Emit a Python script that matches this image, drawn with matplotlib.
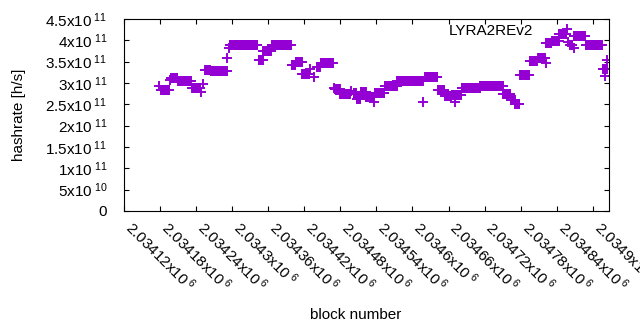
import numpy as np
import matplotlib
matplotlib.use('Agg')
import matplotlib.pyplot as plt

plt.rcParams['font.family'] = ['Liberation Sans', 'DejaVu Sans']
plt.rcParams['mathtext.fontset'] = 'custom'
plt.rcParams['mathtext.rm'] = 'Liberation Sans'
plt.rcParams['mathtext.it'] = 'Liberation Sans'
plt.rcParams['mathtext.bf'] = 'Liberation Sans'

# runs of consecutive blocks with the same hashrate estimate
run_start = [2034178, 2034182, 2034197, 2034199, 2034210, 2034233, 2034248, 2034251,
             2034255, 2034264, 2034273, 2034292, 2034294, 2034296, 2034344, 2034352,
             2034366, 2034399, 2034406, 2034417, 2034430, 2034436, 2034441, 2034447,
             2034469, 2034471, 2034480, 2034498, 2034502, 2034503, 2034507, 2034514,
             2034523, 2034536, 2034538, 2034554, 2034575, 2034618, 2034621, 2034643,
             2034654, 2034665, 2034671, 2034682, 2034713, 2034751, 2034764, 2034771,
             2034779, 2034795, 2034809, 2034822, 2034823, 2034832, 2034844, 2034859,
             2034862, 2034868, 2034869, 2034888, 2034917, 2034920, 2034924]
run_end = [2034178, 2034195, 2034197, 2034209, 2034231, 2034246, 2034248, 2034251,
           2034263, 2034271, 2034291, 2034292, 2034294, 2034342, 2034351, 2034364,
           2034398, 2034405, 2034416, 2034428, 2034430, 2034436, 2034446, 2034467,
           2034469, 2034479, 2034496, 2034498, 2034502, 2034506, 2034513, 2034522,
           2034535, 2034536, 2034553, 2034574, 2034617, 2034618, 2034641, 2034653,
           2034664, 2034681, 2034671, 2034712, 2034750, 2034763, 2034770, 2034778,
           2034794, 2034807, 2034820, 2034822, 2034831, 2034843, 2034856, 2034859,
           2034866, 2034868, 2034887, 2034915, 2034923, 2034920, 2034924]
run_hashrate = [2.93, 2.84, 3.07, 3.12, 3.05, 2.88, 2.78, 2.97,
                3.31, 3.27, 3.28, 3.58, 3.81, 3.89, 3.54, 3.76,
                3.89, 3.43, 3.49, 3.22, 3.32, 3.14, 3.38, 3.47,
                2.88, 2.86, 2.74, 2.82, 2.74, 2.77, 2.63, 2.78,
                2.67, 2.55, 2.77, 2.92, 3.05, 2.56, 3.13, 2.84,
                2.69, 2.73, 2.55, 2.88, 2.92, 2.74, 2.59, 2.51,
                3.19, 3.51, 3.58, 3.46, 3.93, 3.99, 4.14, 3.97,
                3.89, 3.83, 4.10, 3.88, 3.32, 3.16, 3.54]

blocks = np.concatenate([np.arange(s, e + 1) for s, e in zip(run_start, run_end)])
hashrate = np.concatenate([np.full(e - s + 1, v * 1e11)
                           for s, e, v in zip(run_start, run_end, run_hashrate)])

xtick_values = list(range(2034120, 2034901, 60))
ytick_values = [0, 5e10, 1e11, 1.5e11, 2e11, 2.5e11, 3e11, 3.5e11, 4e11, 4.5e11]


def gp_label(v):
    # gnuplot style mantissa x10^exp
    if v == 0:
        return '0'
    exp = int(np.floor(np.log10(v)))
    mant = v / 10 ** exp
    return '%gx10$^{\\ %d}$' % (round(mant, 6), exp)


fig = plt.figure(figsize=(6.4, 3.3), dpi=100)
ax = fig.add_axes([124 / 640, 1 - 211 / 330, 485 / 640, 192 / 330])

ax.plot(blocks, hashrate, '+', color='#9400d3', ms=6.5, mew=1.4, label='LYRA2REv2')

ax.set_xlim(2034120, 2034927)
ax.set_ylim(0, 4.5e11)

ax.set_yticks(ytick_values)
ax.set_yticklabels([gp_label(v) for v in ytick_values], fontsize=11)
ax.set_xticks(xtick_values)
ax.set_xticklabels([gp_label(v) for v in xtick_values], fontsize=11,
                   rotation=-45, ha='left', va='baseline', rotation_mode='anchor')

ax.tick_params(direction='in', top=True, right=True, length=3.5, width=0.8)
ax.tick_params(axis='y', pad=12)
ax.tick_params(axis='x', pad=13)
for sp in ax.spines.values():
    sp.set_linewidth(0.8)

ax.set_ylabel('hashrate [h/s]', fontsize=11)
ax.yaxis.set_label_coords(-0.202, 0.5)
ax.set_xlabel('block number', fontsize=11)
ax.xaxis.set_label_coords(0.477, -0.505)

ax.legend(loc='upper right', bbox_to_anchor=(0.945, 0.975), markerfirst=False,
          frameon=False, handlelength=2.0, handletextpad=1.2, borderpad=0,
          borderaxespad=0, fontsize=11)

fig.savefig('out.png', dpi=100)
